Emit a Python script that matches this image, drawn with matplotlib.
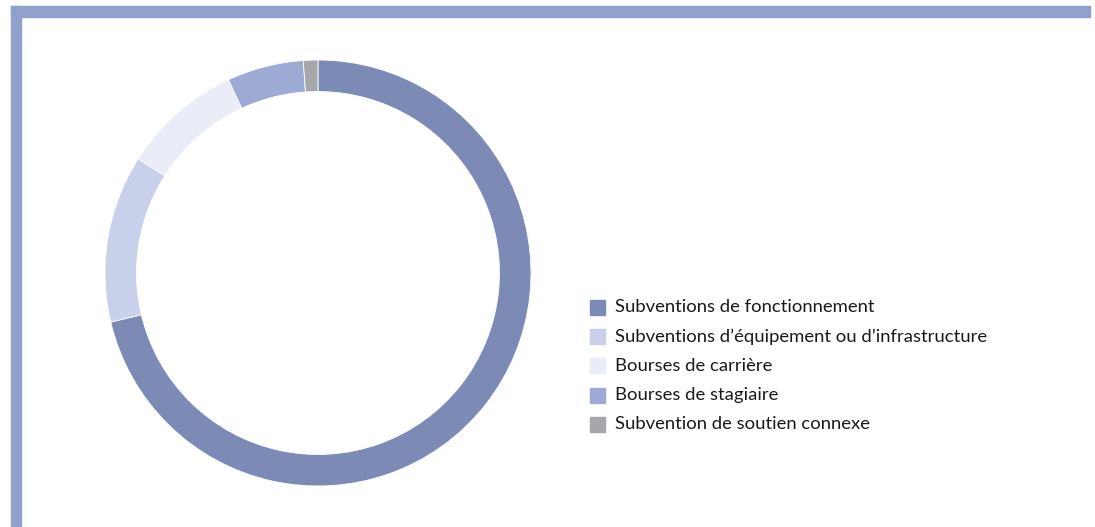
import numpy as np
import matplotlib.pyplot as plt
from matplotlib.patches import Rectangle

categories = ["Subventions de fonctionnement",
              "Subventions d\u2019\u00e9quipement ou d\u2019infrastructure",
              "Bourses de carri\u00e8re",
              "Bourses de stagiaire",
              "Subvention de soutien connexe"]
values = [71.3, 12.7, 9.1, 5.8, 1.1]
colors = ["#7b8bb6", "#c8d0ea", "#eaedf7", "#9caad4", "#a6a7ab"]
border = "#8fa1cd"

W, H = 1095, 527
fig = plt.figure(figsize=(W / 100, H / 100), dpi=100)
fig.patch.set_facecolor("white")

# frame bars (top and left)
fig.patches.append(Rectangle((11 / W, 1 - 16.5 / H), (1090 - 11) / W, 10.5 / H,
                             transform=fig.transFigure, color=border, zorder=0))
fig.patches.append(Rectangle((11 / W, 0), 10 / W, 1 - 6 / H,
                             transform=fig.transFigure, color=border, zorder=0))

cx, cy, r = 318, 273, 213
ax = fig.add_axes([(cx - r) / W, (H - cy - r) / H, 2 * r / W, 2 * r / H])
wedges, _ = ax.pie(values, colors=colors, startangle=90, counterclock=False,
                   radius=1, wedgeprops=dict(width=0.148, linewidth=0.6, edgecolor="white"))
ax.set_xlim(-1, 1)
ax.set_ylim(-1, 1)
ax.set_aspect("equal")
ax.axis("off")

# legend
lx, ly0, dy = 590, 307.5, 29.2
for i, (lab, col) in enumerate(zip(categories, colors)):
    y = ly0 + i * dy
    fig.patches.append(Rectangle((lx / W, 1 - (y + 7.5) / H), 15 / W, 15 / H,
                                 transform=fig.transFigure, color=col))
    fig.text(615 / W, 1 - y / H, lab, fontsize=13.3, family="Lato",
             color="#1a1a1a", va="center", ha="left")

fig.savefig("out.png", dpi=100)
